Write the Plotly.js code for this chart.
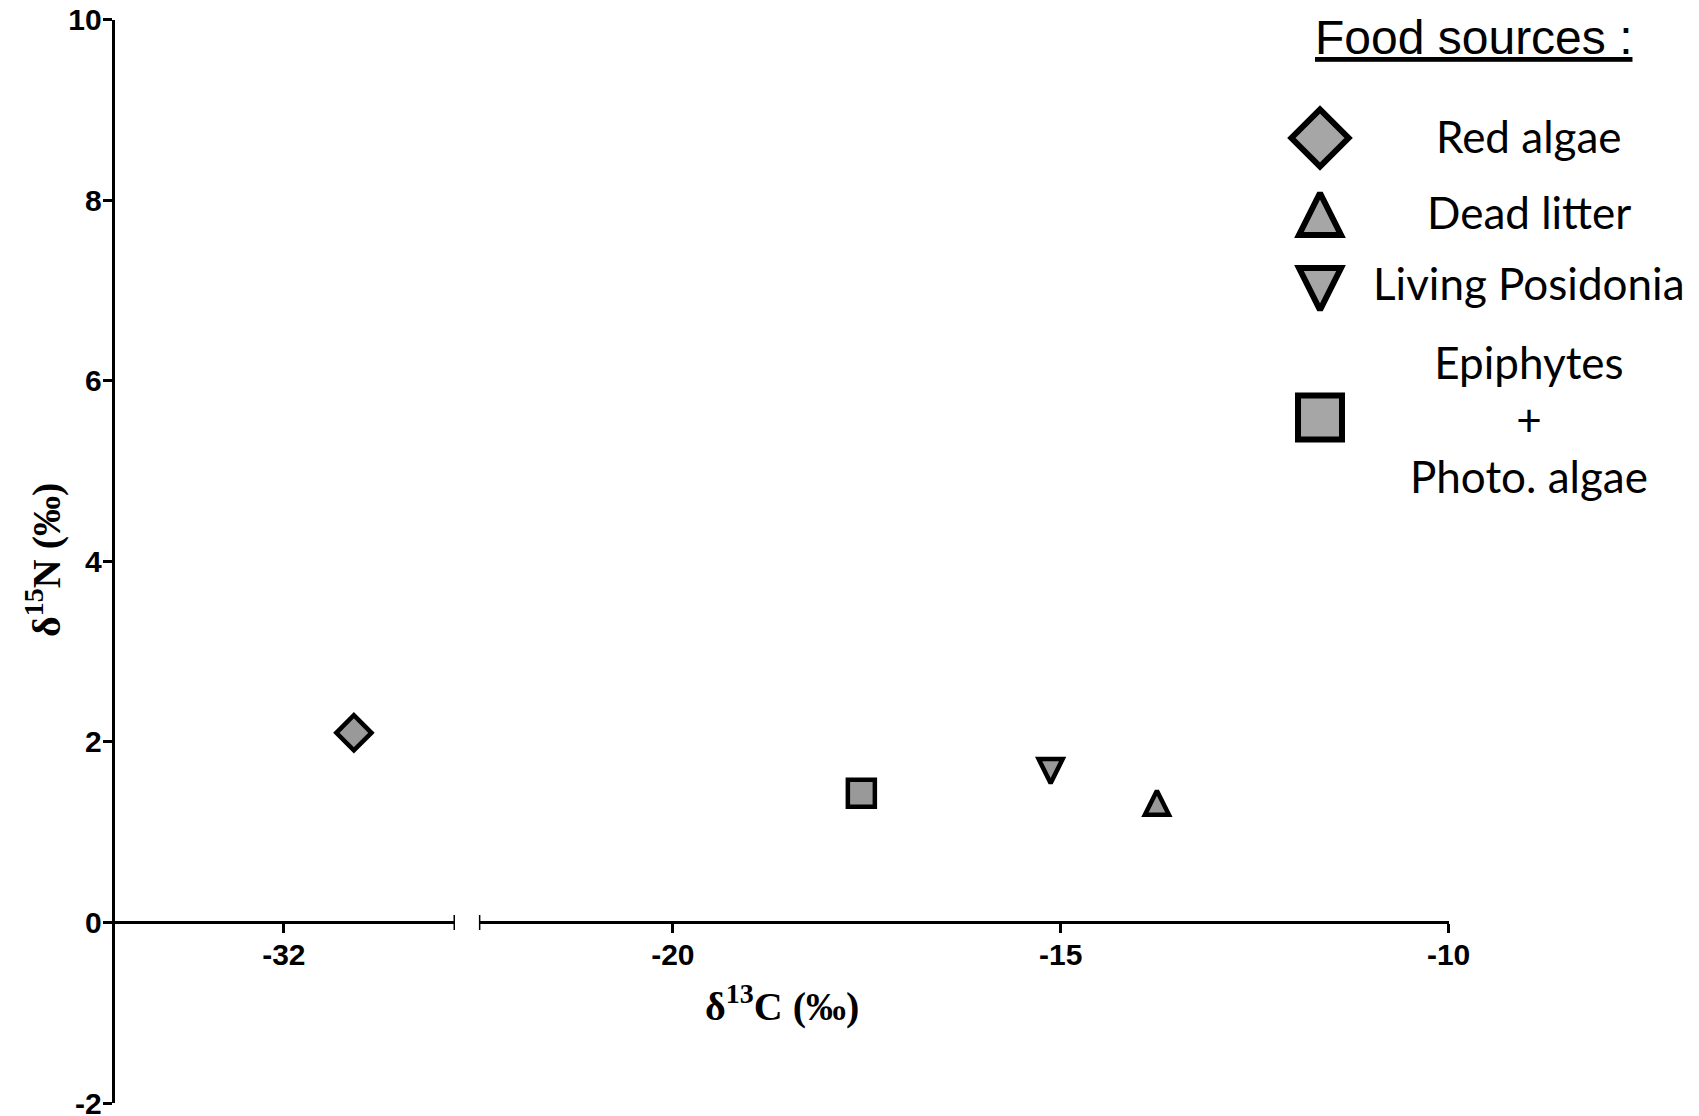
<!DOCTYPE html>
<html><head><meta charset="utf-8">
<script src="https://cdn.plot.ly/plotly-3.0.1.min.js"></script>
<style>html,body{margin:0;padding:0;background:#fff}</style>
</head><body><div id="chart" style="width:1699px;height:1116px"></div>
<script>
// ---- data ----
const sources = ['Red algae', 'Dead litter', 'Living Posidonia', 'Epiphytes<br>+<br>Photo. algae'];
const d13C = [-31.1, -13.76, -15.13, -17.57];
const d15N = [2.10, 1.28, 1.72, 1.43];
const xTicksLeft = [-32];
const xTicksRight = [-20, -15, -10];
const yTicks = [-2, 0, 2, 4, 6, 8, 10];
const xRangeLeft = [-34.2, -29.8];
const xRangeRight = [-22.5, -10];
const yRange = [-2, 10];
const legendTitle = 'Food sources :';
const xTitle = 'δ<sup>13</sup>C (‰)';
const yTitle = 'δ<sup>15</sup>N (‰)';

// ---- styles / layout constants ----
const W = 1699, H = 1116;
const fx = p => p / W;
const fy = p => 1 - p / H;
// triangles drawn with arrow symbols (equilateral-like), re-centred on their centroid via standoff
const symbols = ['diamond', 'arrow-down', 'arrow-down', 'square'];
const angles = [0, 180, 0, 0];
const plotSizes = [27, 24, 24, 27];
const legSizes = [44, 42, 42, 44];
const standoffFor = (sym, size) => sym.startsWith('arrow') ? size * 2 / 3 : 0;
const legRowY = [138, 221, 282, 417.5];   // legend row centres (px)
const legTextY = [136, 212, 283, 419];
const legSymX = 1320, legTextX = 1529;
const tickFont = {family: 'Liberation Sans, Arial, sans-serif', size: 30, weight: 'bold', color: '#000'};
const labFont = {family: 'Lato, Calibri, sans-serif', size: 44, color: '#000'};
const titleFont = {family: 'Liberation Serif, Times New Roman, serif', size: 40, weight: 'bold', color: '#000'};

const traces = [];
sources.forEach((s, i) => {
  const onLeft = d13C[i] <= xRangeLeft[1];
  traces.push({
    type: 'scatter', mode: 'markers', name: s,
    x: [d13C[i]], y: [d15N[i]],
    xaxis: onLeft ? 'x' : 'x2', yaxis: 'y',
    marker: {symbol: symbols[i], angle: angles[i], standoff: standoffFor(symbols[i], plotSizes[i]),
      size: plotSizes[i], color: '#999999', line: {color: '#000', width: 4.5}},
    cliponaxis: false, hoverinfo: 'skip'
  });
});
// legend symbols on an overlay pixel axis
sources.forEach((s, i) => {
  traces.push({
    type: 'scatter', mode: 'markers',
    x: [legSymX], y: [legRowY[i]],
    xaxis: 'x3', yaxis: 'y3',
    marker: {symbol: symbols[i], angle: angles[i], standoff: standoffFor(symbols[i], legSizes[i]),
      size: legSizes[i], color: '#a6a6a6', line: {color: '#000', width: 6}},
    cliponaxis: false, hoverinfo: 'skip'
  });
});

const axBase = {
  ticks: 'outside', ticklen: 9, tickwidth: 3, tickcolor: '#000',
  showline: true, linewidth: 3, linecolor: '#000',
  showgrid: false, zeroline: false, tickfont: tickFont, fixedrange: true,
  ticklabeloverflow: 'allow'
};

const annotations = [
  {text: xTitle, x: fx(781.7), y: fy(1003), xref: 'paper', yref: 'paper', showarrow: false,
   xanchor: 'center', yanchor: 'middle', font: titleFont},
  {text: yTitle, x: fx(43), y: fy(560), xref: 'paper', yref: 'paper', showarrow: false, textangle: -90,
   xanchor: 'center', yanchor: 'middle', font: titleFont},
  {text: '<u>' + legendTitle + '</u>', x: fx(1473.6), y: fy(37), xref: 'paper', yref: 'paper', showarrow: false,
   xanchor: 'center', yanchor: 'middle', font: {family: 'Liberation Sans, Arial, sans-serif', size: 48, color: '#000'}}
];
sources.forEach((s, i) => {
  annotations.push({text: s, x: fx(legTextX), y: fy(legTextY[i]), xref: 'paper', yref: 'paper', showarrow: false,
    xanchor: 'center', yanchor: 'middle', align: 'center', font: labFont});
});

const shapes = [
  {type: 'line', xref: 'x', yref: 'y', x0: xRangeLeft[1], x1: xRangeLeft[1], ysizemode: 'pixel', yanchor: 0, y0: -7.5, y1: 7.5, line: {color: '#000', width: 3}},
  {type: 'line', xref: 'x2', yref: 'y', x0: xRangeRight[0], x1: xRangeRight[0], ysizemode: 'pixel', yanchor: 0, y0: -7.5, y1: 7.5, line: {color: '#000', width: 3}}
];

const layout = {
  width: W, height: H,
  margin: {l: 0, r: 0, t: 0, b: 0},
  paper_bgcolor: '#ffffff', plot_bgcolor: 'rgba(0,0,0,0)',
  showlegend: false,
  xaxis: Object.assign({}, axBase, {domain: [fx(112.7), fx(455)], range: xRangeLeft, anchor: 'free', position: fy(922.1),
    tickvals: xTicksLeft, ticktext: xTicksLeft.map(String), ticklabelstandoff: -4}),
  xaxis2: Object.assign({}, axBase, {domain: [fx(478.9), fx(1448.6)], range: xRangeRight, anchor: 'free', position: fy(922.1),
    tickvals: xTicksRight, ticktext: xTicksRight.map(String), ticklabelstandoff: -4}),
  yaxis: Object.assign({}, axBase, {domain: [fy(1103), fy(19.5)], range: yRange, anchor: 'free', position: fx(112.7),
    tickvals: yTicks, ticktext: yTicks.map(String), ticklabelstandoff: -5}),
  xaxis3: {domain: [0, 1], range: [0, W], visible: false, anchor: 'y3', fixedrange: true},
  yaxis3: {domain: [0, 1], range: [H, 0], visible: false, anchor: 'x3', fixedrange: true},
  annotations: annotations,
  shapes: shapes
};

Plotly.newPlot('chart', traces, layout, {staticPlot: true, displayModeBar: false});
</script>
</body></html>
